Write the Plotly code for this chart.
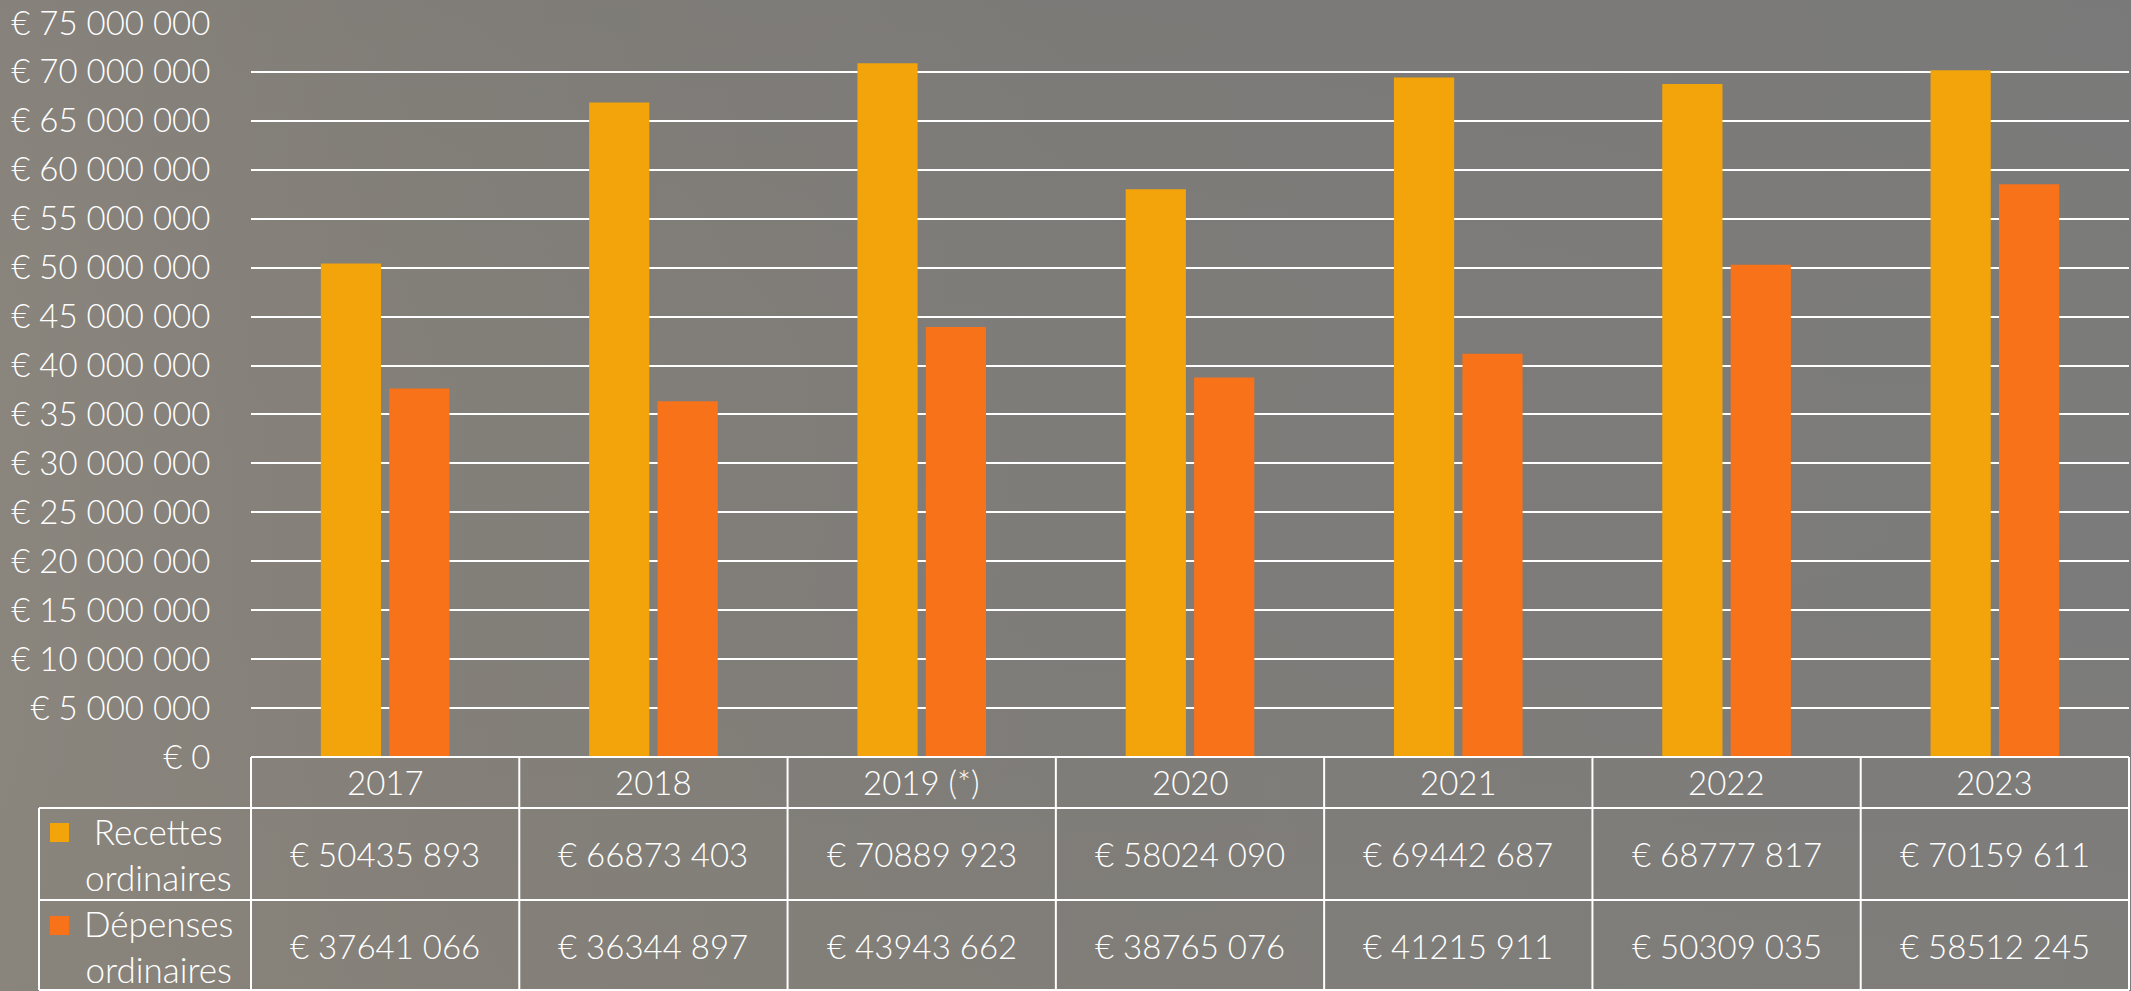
import base64
import plotly.graph_objects as go

# ---------------- data ----------------
years = ["2017", "2018", "2019 (*)", "2020", "2021", "2022", "2023"]
recettes = [50435893, 66873403, 70889923, 58024090, 69442687, 68777817, 70159611]
depenses = [37641066, 36344897, 43943662, 38765076, 41215911, 50309035, 58512245]
series_names = ["Recettes<br>ordinaires", "Dépenses<br>ordinaires"]
series_colors = ["#F2A40A", "#F8721A"]
y_tickvals = list(range(0, 75000001, 5000000))
y_ticktext = ["€ " + f"{v:,}".replace(",", " ") for v in y_tickvals]

# ---------------- geometry ----------------
W, H = 2131, 991
ML, MR, MT, MB = 251, 2, 23, 234
PW = W - ML - MR
PH = H - MT - MB
FONT = "Lato, 'Open Sans', sans-serif"
FW = 300
WHITE = "#FFFFFF"


def px_x(p):
    return (p - ML) / PW


def px_y(p):
    return (H - MB - p) / PH


def fmt_val(v):
    return f"€ {v // 1000} {v % 1000:03d}"


fig = go.Figure()
for name, vals, col in zip(series_names, [recettes, depenses], series_colors):
    fig.add_trace(go.Bar(x=list(range(len(years))), y=vals, name=name,
                         marker=dict(color=col, line=dict(width=0)),
                         hoverinfo="skip"))

# background gradient image
svg = f"""<svg xmlns='http://www.w3.org/2000/svg' width='{W}' height='{H}' viewBox='0 0 {W} {H}' preserveAspectRatio='none'>
<defs>
<linearGradient id='g' x1='0' y1='0' x2='1' y2='0'>
<stop offset='0' stop-color='#8a857d'/>
<stop offset='0.2' stop-color='#837f79'/>
<stop offset='0.5' stop-color='#7e7c79'/>
<stop offset='1' stop-color='#7b7b7b'/>
</linearGradient>
<linearGradient id='v' x1='0' y1='0' x2='0' y2='1'>
<stop offset='0' stop-color='#707070' stop-opacity='0.15'/>
<stop offset='0.6' stop-color='#8a8478' stop-opacity='0.0'/>
<stop offset='1' stop-color='#8a8478' stop-opacity='0.25'/>
</linearGradient>
</defs>
<rect width='{W}' height='{H}' fill='url(#g)'/>
<rect width='{W}' height='{H}' fill='url(#v)'/>
</svg>"""
src = "data:image/svg+xml;base64," + base64.b64encode(svg.encode()).decode()

shapes = []
annotations = []
n = len(years)
x_left_tab = px_x(39)
y_top = px_y(H - MB)
y_h = px_y(808)
y_r1 = px_y(900)
y_bot = px_y(990)
lw = 2
# horizontal table lines
shapes.append(dict(type="line", xref="paper", yref="paper", x0=0, x1=1, y0=y_top, y1=y_top,
                   line=dict(color=WHITE, width=lw)))
for yy in [y_h, y_r1, y_bot]:
    shapes.append(dict(type="line", xref="paper", yref="paper", x0=x_left_tab, x1=1, y0=yy, y1=yy,
                       line=dict(color=WHITE, width=lw)))
# vertical table lines
shapes.append(dict(type="line", xref="paper", yref="paper", x0=x_left_tab, x1=x_left_tab, y0=y_h, y1=y_bot,
                   line=dict(color=WHITE, width=lw)))
for i in range(n + 1):
    xx = i / n
    shapes.append(dict(type="line", xref="paper", yref="paper", x0=xx, x1=xx, y0=y_top, y1=y_bot,
                       line=dict(color=WHITE, width=lw)))

# header texts
for i, yr in enumerate(years):
    annotations.append(dict(x=i, xref="x", y=px_y(782), yref="paper", text=yr, showarrow=False,
                            font=dict(family=FONT, size=33, color=WHITE, weight=FW),
                            xanchor="center", yanchor="middle"))
# value cells
row_centers = [px_y(854), px_y(946)]
for vals, yc in zip([recettes, depenses], row_centers):
    for i, v in enumerate(vals):
        annotations.append(dict(x=i, xref="x", y=yc, yref="paper", text=fmt_val(v), showarrow=False,
                                font=dict(family=FONT, size=33, color=WHITE, weight=FW),
                                xanchor="center", yanchor="middle"))
# legend cells
marker_tops = [823, 916]
for name, col, yc, mt in zip(series_names, series_colors, row_centers, marker_tops):
    annotations.append(dict(x=px_x(158), xref="paper", y=yc, yref="paper", text=name, showarrow=False,
                            align="center", font=dict(family=FONT, size=35, color=WHITE, weight=FW),
                            xanchor="center", yanchor="middle"))
    shapes.append(dict(type="rect", xref="paper", yref="paper", x0=px_x(50), x1=px_x(69),
                       y0=px_y(mt + 19), y1=px_y(mt), fillcolor=col, line=dict(width=0)))

fig.update_layout(
    width=W, height=H,
    margin=dict(l=ML, r=MR, t=MT, b=MB, pad=0, autoexpand=False),
    paper_bgcolor="#7e7c79",
    plot_bgcolor="rgba(0,0,0,0)",
    barmode="group", bargap=0.49, bargroupgap=0.12,
    showlegend=False,
    font=dict(family=FONT, color=WHITE, size=33, weight=FW),
    xaxis=dict(range=[-0.5, n - 0.5], showticklabels=False, showgrid=False, zeroline=False,
               showline=False, ticks="", automargin=False),
    yaxis=dict(range=[0, 75000000], tickmode="array", tickvals=y_tickvals, ticktext=y_ticktext,
               showgrid=True, gridcolor=WHITE, gridwidth=2, zeroline=False, showline=False,
               ticks="outside", ticklen=33, tickcolor="rgba(0,0,0,0)", automargin=False,
               tickfont=dict(family=FONT, size=33, color=WHITE, weight=FW)),
    shapes=shapes,
    annotations=annotations,
    images=[dict(source=src, xref="paper", yref="paper", x=px_x(0), y=px_y(0),
                 sizex=W / PW, sizey=H / PH, sizing="stretch", xanchor="left", yanchor="top",
                 layer="below")],
)

fig.write_html(
    "out.html",
    config={"displayModeBar": False},
    post_script="document.body.style.margin='0';document.body.style.overflow='hidden';",
)
